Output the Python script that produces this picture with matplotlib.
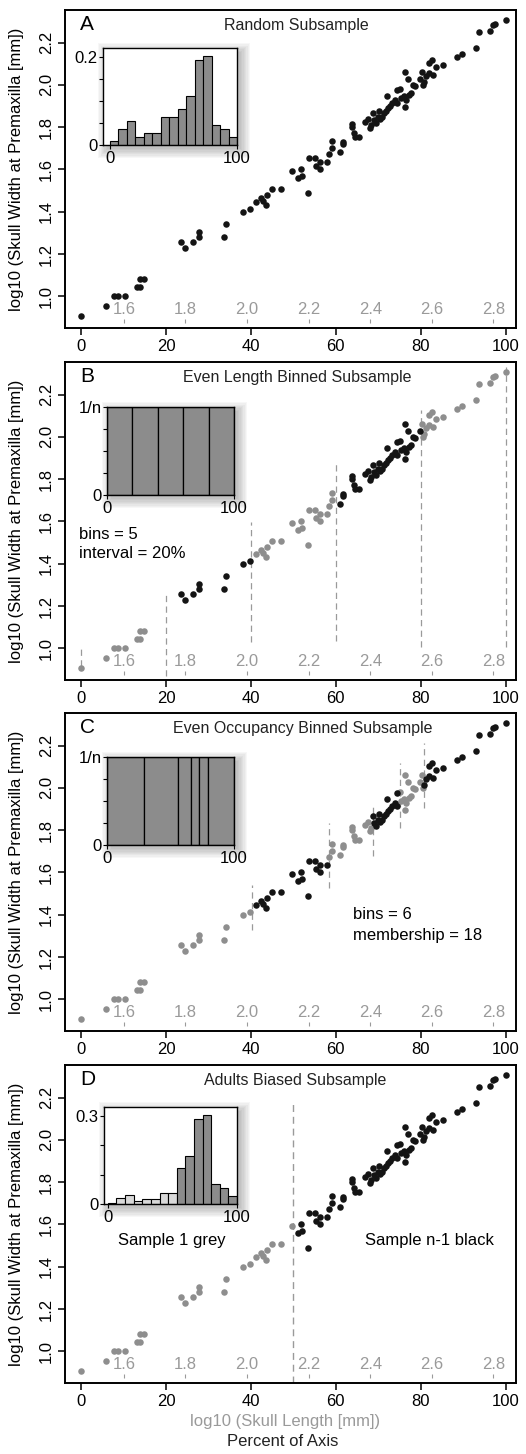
import numpy as np
import matplotlib
matplotlib.use("Agg")
import matplotlib.pyplot as plt
from matplotlib.patches import Rectangle

plt.rcParams['font.family'] = ['Liberation Sans', 'DejaVu Sans']

# percent of axis (x) and log10 skull width at premaxilla (y)
pct = [0.0, 6.0, 7.8, 8.7, 10.3, 13.3, 14.0, 14.0, 14.8, 23.5, 24.5, 26.4, 27.8, 27.8,
       33.6, 34.1, 38.2, 39.8, 41.2, 42.4, 42.9, 43.5, 43.8, 44.9, 47.0, 49.7, 51.0, 51.9,
       52.1, 53.5, 53.6, 55.1, 55.3, 56.2, 56.2, 58.0, 58.5, 59.1, 59.1, 60.9, 61.6, 61.7,
       63.7, 63.8, 64.2, 64.6, 65.4, 66.8, 67.5, 68.0, 68.2, 68.8, 68.9, 69.4, 69.8, 70.2,
       70.4, 70.9, 71.3, 71.8, 72.1, 72.2, 72.7, 73.3, 73.9, 74.3, 74.5, 75.1, 75.3, 76.0,
       76.2, 76.2, 76.6, 77.0, 77.3, 77.6, 78.2, 78.6, 79.9, 80.2, 80.4, 80.8, 81.3, 81.9,
       82.0, 82.6, 82.9, 83.5, 85.3, 88.5, 89.7, 92.9, 93.7, 96.2, 97.0, 97.4, 100.0]
logw = [0.905, 0.956, 1.0, 1.0, 1.0, 1.043, 1.043, 1.080, 1.080, 1.257, 1.230, 1.257, 1.303, 1.281,
        1.281, 1.344, 1.399, 1.415, 1.446, 1.465, 1.451, 1.434, 1.479, 1.506, 1.506, 1.591, 1.558, 1.601,
        1.569, 1.490, 1.654, 1.654, 1.617, 1.634, 1.602, 1.634, 1.672, 1.733, 1.700, 1.681, 1.732, 1.719,
        1.814, 1.801, 1.774, 1.755, 1.751, 1.826, 1.837, 1.795, 1.810, 1.869, 1.834, 1.821, 1.850, 1.877,
        1.839, 1.847, 1.866, 1.874, 1.949, 1.889, 1.900, 1.916, 1.929, 1.976, 1.916, 1.979, 1.937, 1.945,
        1.897, 2.063, 1.929, 2.028, 1.951, 1.960, 2.000, 1.995, 2.028, 2.063, 2.000, 2.015, 2.042, 2.058,
        2.105, 2.118, 2.047, 2.086, 2.093, 2.131, 2.145, 2.173, 2.249, 2.257, 2.284, 2.288, 2.307]

# log10 skull length at 0% and 100% of axis
len_min = 1.4607
len_max = 2.84
len_ticks = [1.6, 1.8, 2.0, 2.2, 2.4, 2.6, 2.8]

# histogram insets
hist_edges = np.linspace(0, 100, 16)
hist_a = [0.0093, 0.037, 0.0556, 0.0185, 0.0278, 0.0278, 0.0648, 0.0648, 0.083, 0.111,
          0.194, 0.204, 0.046, 0.037, 0.0185]
hist_d = [0.0045, 0.0216, 0.032, 0.010, 0.016, 0.016, 0.039, 0.039, 0.124, 0.165,
          0.29, 0.303, 0.068, 0.056, 0.028]
hist_d_light = [False, True, True, True, True, True, True, True, False, False,
                False, False, False, False, False]
b_inset_edges = [0, 20, 40, 60, 80, 100]
c_inset_edges = [0, 29.5, 56.1, 66.1, 72.3, 79.6, 100]

# bin boundaries in the main panels
b_lines = [0, 20, 40, 60, 80, 100]
b_tops = [1.016, 1.268, 1.598, 1.888, 2.125, 2.33]
b_bots = [0.918, 0.87, 1.03, 1.036, 1.005, 1.005]
c_lines = [40.3, 58.3, 68.8, 75.1, 80.8]
c_tops = [1.542, 1.834, 1.92, 2.118, 2.213]
c_bots = [1.328, 1.526, 1.676, 1.81, 1.905]
d_line = 50
d_top = 2.19

titles = ["Random Subsample", "Even Length Binned Subsample",
          "Even Occupancy Binned Subsample", "Adults Biased Subsample"]
letters = ["A", "B", "C", "D"]

BLACK = "#141414"
GREY = "#8e8e8e"
LGREY = "#9a9a9a"
BAR = "#8c8c8c"
FS = 12

W, H = 526, 1454
fig = plt.figure(figsize=(W / 100, H / 100), dpi=100)


def fig_rect(left, top, right, bottom):
    return [left / W, 1 - bottom / H, (right - left) / W, (bottom - top) / H]


def pct2len(p):
    return len_min + np.asarray(p) / 100 * (len_max - len_min)


def len2pct(l):
    return (np.asarray(l) - len_min) / (len_max - len_min) * 100


def shadow(rect):
    l, b, w, h = rect
    dx, dy = 4 / W, 4 / H
    for k in range(8):
        ex, ey = k * 1.3 / W, k * 1.3 / H
        fig.patches.append(Rectangle((l + dx - ex, b - dy - ey), w + 2 * ex, h + 2 * ey,
                                     transform=fig.transFigure, color="black",
                                     alpha=0.03, lw=0, zorder=1))


def make_inset(rect, ylim, yticks, ylabels, xlim):
    shadow(rect)
    ins = fig.add_axes(rect, zorder=3)
    ins.set_xlim(*xlim)
    ins.set_ylim(*ylim)
    ins.set_xticks([0, 100], ["0", "100"])
    ins.set_yticks(yticks, ylabels)
    for sp in ins.spines.values():
        sp.set_linewidth(1.0)
    ins.tick_params(labelsize=FS, length=3, width=0.8, pad=1)
    return ins


tops_px = [10, 362, 713, 1065]
x = np.array(pct)
y = np.array(logw)

for i in range(4):
    top = tops_px[i]
    ax = fig.add_axes(fig_rect(65, top, 516, top + 318))
    ax.set_xlim(-3.76, 102.4)
    ax.set_ylim(0.85, 2.354)

    if i == 0:
        black = np.ones(len(x), bool)
    elif i == 1:
        black = np.digitize(x, b_lines[1:-1]) % 2 == 1
    elif i == 2:
        black = np.digitize(x, c_lines) % 2 == 1
    else:
        black = x >= d_line
    ax.scatter(x[~black], y[~black], s=22, color=GREY, lw=0, zorder=3)
    ax.scatter(x[black], y[black], s=22, color=BLACK, lw=0, zorder=3)

    if i == 1:
        ax.vlines(b_lines, b_bots, b_tops, colors=LGREY, linestyles=(0, (5, 3.5)), lw=0.9)
    elif i == 2:
        ax.vlines(c_lines, c_bots, c_tops, colors=LGREY, linestyles=(0, (5, 3.5)), lw=0.9)
    elif i == 3:
        ax.vlines([d_line], [0.85], [d_top], colors=LGREY, linestyles=(0, (5, 3.5)), lw=1.0)

    ax.set_xticks([0, 20, 40, 60, 80, 100])
    ax.set_yticks([1.0, 1.2, 1.4, 1.6, 1.8, 2.0, 2.2])
    ax.set_yticklabels(["1.0", "1.2", "1.4", "1.6", "1.8", "2.0", "2.2"], rotation=90, va="center")
    ax.tick_params(labelsize=FS, length=5, width=1.1, pad=3)
    for sp in ax.spines.values():
        sp.set_linewidth(1.4)
    ax.set_ylabel("log10 (Skull Width at Premaxilla [mm])", fontsize=FS)
    ax.yaxis.set_label_coords(-0.09, 0.5)

    sec = ax.secondary_xaxis(0.016, functions=(pct2len, len2pct))
    sec.set_alignment("top")
    sec.set_xticks(len_ticks, [f"{t:.1f}" for t in len_ticks])
    sec.spines["top"].set_visible(False)
    sec.spines["bottom"].set_visible(False)
    sec.tick_params(colors=LGREY, labelcolor=LGREY, labelsize=FS, length=3, width=0.8, pad=1)

    ax.text(0.033, 0.955, letters[i], transform=ax.transAxes, fontsize=15,
            ha="left", va="center")
    tx = [0.514, 0.515, 0.528, 0.51][i]
    ax.text(tx, 0.952, titles[i], transform=ax.transAxes, fontsize=11.5,
            ha="center", va="center", color="#222222")

    if i == 0:
        ins = make_inset(fig_rect(103, 48, 237, 145), (0, 0.2215),
                         [0, 0.05, 0.1, 0.15, 0.2], ["0", "", "", "", "0.2"], (-5.5, 100))
        ins.bar(hist_edges[:-1], hist_a, width=np.diff(hist_edges), align="edge",
                color=BAR, edgecolor="black", lw=0.8)
    elif i == 1:
        ins = make_inset(fig_rect(107, top + 45, 234, top + 133), (0, 1),
                         [0, 0.25, 0.5, 0.75, 1], ["0", "", "", "", "1/n"], (0, 100))
        ins.bar(b_inset_edges[:-1], [1] * 5, width=np.diff(b_inset_edges), align="edge",
                color=BAR, edgecolor="black", lw=0.9)
        ax.text(-0.5, 1.54, "bins = 5", fontsize=FS, ha="left", va="center")
        ax.text(-0.5, 1.45, "interval = 20%", fontsize=FS, ha="left", va="center")
    elif i == 2:
        ins = make_inset(fig_rect(107, top + 44, 234, top + 132), (0, 1),
                         [0, 0.25, 0.5, 0.75, 1], ["0", "", "", "", "1/n"], (0, 100))
        ins.bar(c_inset_edges[:-1], [1] * 6, width=np.diff(c_inset_edges), align="edge",
                color=BAR, edgecolor="black", lw=0.9)
        ax.text(64.0, 1.40, "bins = 6", fontsize=FS, ha="left", va="center")
        ax.text(64.0, 1.30, "membership = 18", fontsize=FS, ha="left", va="center")
    else:
        ins = make_inset(fig_rect(104, top + 42, 237, top + 139), (0, 0.33),
                         [0, 0.1, 0.2, 0.3], ["0", "", "", "0.3"], (-3, 100))
        cols = ["#d9d9d9" if lt else BAR for lt in hist_d_light]
        ins.bar(hist_edges[:-1], hist_d, width=np.diff(hist_edges), align="edge",
                color=cols, edgecolor="black", lw=0.8)
        ax.text(21.5, 1.525, "Sample 1 grey", fontsize=FS, ha="center", va="center")
        ax.text(82.0, 1.525, "Sample n-1 black", fontsize=FS, ha="center", va="center")

fig.text(285 / W, 1 - 1421.5 / H, "log10 (Skull Length [mm])", fontsize=FS,
         color=LGREY, ha="center", va="center")
fig.text(283 / W, 1 - 1441.5 / H, "Percent of Axis", fontsize=FS,
         color="#222222", ha="center", va="center")

fig.savefig("out.png", dpi=100)
